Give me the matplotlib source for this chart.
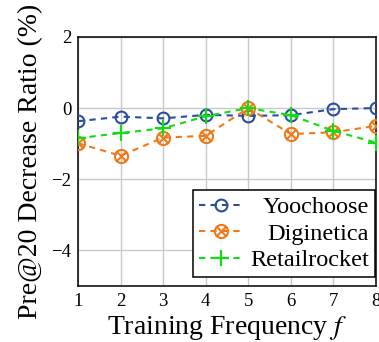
import numpy as np
import matplotlib
matplotlib.use('Agg')
from matplotlib import pyplot as plt
from matplotlib.path import Path

plt.rcParams['font.family'] = ['Liberation Serif', 'DejaVu Serif']
plt.rcParams['mathtext.fontset'] = 'stix'

freq = [1, 2, 3, 4, 5, 6, 7, 8]
yoochoose = [-0.37, -0.24, -0.29, -0.19, -0.22, -0.20, -0.03, 0.00]
diginetica = [-0.99, -1.34, -0.83, -0.78, 0.00, -0.73, -0.68, -0.50]
retailrocket = [-0.85, -0.70, -0.57, -0.23, 0.00, -0.20, -0.64, -0.97]
yticks = [-4, -2, 0, 2]

# circle with a cross inside
d = 0.62
otimes = Path.make_compound_path(
    Path.circle((0, 0), 1.0),
    Path([(-d, -d), (d, d)], [Path.MOVETO, Path.LINETO]),
    Path([(-d, d), (d, -d)], [Path.MOVETO, Path.LINETO]))

fig = plt.figure(figsize=(3.79, 3.42), dpi=100)
ax = fig.add_axes([0.206, 0.164, 0.786, 0.728])

ax.plot(freq, yoochoose, '--', color='#2c4d9e', lw=1.5, dashes=(3, 2.5),
        marker='o', ms=8.5, mfc='none', mew=1.5, label='Yoochoose', zorder=3)
ax.plot(freq, diginetica, '--', color='#f07a1a', lw=1.5, dashes=(3, 2.5),
        marker=otimes, ms=9.5, mfc='none', mew=1.5, label='Diginetica', zorder=3)
ax.plot(freq, retailrocket, '--', color='#12dd12', lw=1.5, dashes=(3, 2.5),
        marker='+', ms=11, mew=1.6, label='Retailrocket', zorder=4)

ax.set_xlim(1, 8)
ax.set_ylim(-5, 2)
ax.set_xticks(freq)
ax.set_yticks(yticks)
ax.set_yticklabels(['\u2212%d' % -v if v < 0 else '%d' % v for v in yticks])
ax.grid(True, color='#c8c8c8', lw=1.0)
ax.set_axisbelow(True)
ax.tick_params(length=0, labelsize=13.5, pad=5)
for s in ax.spines.values():
    s.set_linewidth(1.1)

ax.set_xlabel('Training Frequency $f$', fontsize=20, labelpad=3)
ax.set_ylabel('Pre@20 Decrease Ratio (%)', fontsize=20, labelpad=6)

leg = ax.legend(loc='lower right', bbox_to_anchor=(0.997, 0.035),
                fontsize=17.5, frameon=True, fancybox=False,
                edgecolor='black', framealpha=1, handlelength=1.8,
                handletextpad=0.3, borderpad=0.25, labelspacing=0.18,
                borderaxespad=0)
leg.get_frame().set_linewidth(1.1)

# right-align the legend labels
fig.canvas.draw()
r = fig.canvas.get_renderer()
texts = leg.get_texts()
widths = [t.get_window_extent(r).width for t in texts]
for t, w in zip(texts, widths):
    t.set_position((max(widths) - w, 0))

fig.savefig('out.png', dpi=100)
